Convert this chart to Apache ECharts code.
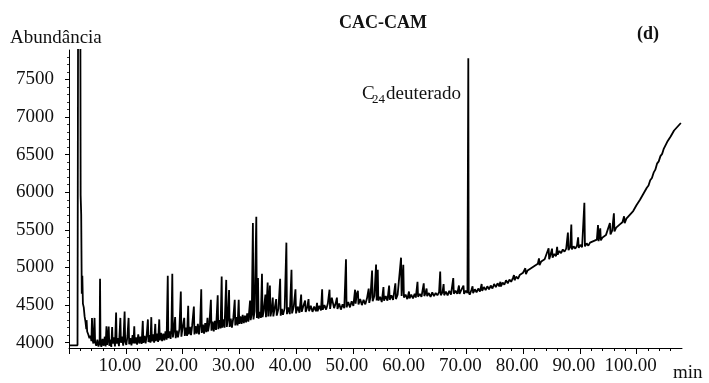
<!DOCTYPE html>
<html>
<head>
<meta charset="utf-8">
<title>CAC-CAM</title>
<style>
  html, body { margin: 0; padding: 0; background: #fff; }
  #chart { width: 709px; height: 383px; }
</style>
</head>
<body>
<div id="chart"></div>
<script src="https://cdn.jsdelivr.net/npm/echarts@6/dist/echarts.min.js"></script>
<script>
// tick values
var xMajor = [0, 10, 20, 30, 40, 50, 60, 70, 80, 90, 100];
var xLabels = [10, 20, 30, 40, 50, 60, 70, 80, 90, 100];
var xMinor = [2, 4, 6, 8, 12, 14, 16, 18, 22, 24, 26, 28, 32, 34, 36, 38, 42, 44, 46, 48,
  52, 54, 56, 58, 62, 64, 66, 68, 72, 74, 76, 78, 82, 84, 86, 88, 92, 94, 96, 98, 102, 104, 106];
var yMajor = [4000, 4500, 5000, 5500, 6000, 6500, 7000, 7500];
var yMinor = [4100, 4200, 4300, 4400, 4600, 4700, 4800, 4900, 5100, 5200, 5300, 5400,
  5600, 5700, 5800, 5900, 6100, 6200, 6300, 6400, 6600, 6700, 6800, 6900,
  7100, 7200, 7300, 7400, 7600, 7700, 7800];

// chromatogram [min, abundance]
var trace0 = [[0,3965],[1.5,3965],[1.6,8300],[2.0,8300],[2.05,5960],[2.15,5700],[2.25,4650],[2.35,4890],
  [2.45,4520],[2.6,4470],[2.75,4350],[2.9,4280],[3.05,4180],[3.1,4300],[3.2,4150],[3.4,4110],[3.6,4060],
  [3.8,4090],[3.95,4020],[4.05,4330],[4.15,4040],[4.3,3990],[4.5,4330],[4.6,4010],[4.8,3960],[5.0,4040]];

var trace5 = [[5.2,3950],[5.4,4020],[5.47,4850],[5.55,3990],[5.7,3945],[5.9,4050],[6.1,3960],[6.3,4080],
  [6.45,3950],[6.6,4220],[6.7,3970],[6.85,4060],[7.0,4215],[7.1,3960],[7.3,4040],[7.45,3945],[7.6,4210],
  [7.7,3990],[7.9,4070],[8.1,3950],[8.3,4400],[8.4,3990],[8.6,4060],[8.8,3955],[9.05,4330],[9.15,4000],
  [9.35,4080],[9.55,3960],[9.8,4415],[9.9,4010],[10.1,3970],[10.3,4090],[10.5,4330],[10.6,3980],[10.8,4060],
  [11.0,3965],[11.2,4100],[11.35,3990],[11.5,4220],[11.6,3990],[11.8,4070],[12.0,3975],[12.2,4110],
  [12.4,3990],[12.6,4080],[12.8,3985],[13.0,4290],[13.1,4000],[13.3,4090],[13.5,3990],[13.7,4110],
  [13.9,4310],[14.0,4010],[14.2,4100],[14.35,4000],[14.5,4340],[14.6,4020],[14.8,4110],[15.0,4000],
  [15.2,4250],[15.3,4020],[15.5,4120],[15.7,4010],[15.9,4310],[16.0,4030],[16.2,4130],[16.4,4020],
  [16.6,4120],[16.8,4030],[17.0,4150],[17.2,4040],[17.4,4890],[17.5,4060],[17.7,4150],[17.9,4050],
  [18.05,4200],[18.2,4915],[18.3,4070],[18.5,4170],[18.7,4340],[18.8,4060],[19.0,4160],[19.2,4070],
  [19.45,4180],[19.7,4680],[19.8,4080],[20.0,4190],[20.3,4330],[20.4,4090]];

var trace20 = [[20.6,4200],[20.8,4090],[21.0,4490],[21.1,4110],[21.3,4210],[21.5,4100],[21.7,4230],
  [22.0,4480],[22.1,4110],[22.3,4220],[22.5,4120],[22.7,4250],[22.9,4110],[23.1,4240],[23.3,4710],
  [23.4,4130],[23.6,4240],[23.8,4120],[24.0,4260],[24.2,4140],[24.4,4330],[24.5,4150],[24.75,4270],
  [25.0,4570],[25.1,4160],[25.3,4280],[25.5,4150],[25.7,4290],[25.9,4170],[26.2,4630],[26.3,4180],
  [26.5,4300],[26.7,4190],[26.9,4880],[27.0,4200],[27.2,4310],[27.4,4200],[27.7,4835],[27.8,4210],
  [28.0,4320],[28.2,4700],[28.3,4210],[28.5,4320],[28.7,4200],[28.95,4330],[29.2,4570],[29.3,4230],
  [29.5,4340],[29.7,4230],[29.9,4570],[30.0,4250],[30.2,4350],[30.4,4250],[30.6,4370],[30.8,4260],
  [31.0,4360],[31.2,4270],[31.4,4390],[31.6,4280],[31.9,4560],[32.0,4300],[32.2,4380],[32.4,5590],
  [32.5,4310],[32.7,4420],[33.0,5675],[33.1,4330],[33.3,4860],[33.4,4320],[33.6,4410],[33.8,4330],
  [34.0,4915],[34.1,4340],[34.3,4420],[34.6,4640],[34.7,4340],[35.0,4800],[35.1,4350],[35.4,4760],
  [35.5,4350],[35.7,4430],[35.9,4600],[36.0,4350],[36.2,4440],[36.5,4580],[36.6,4360],[36.9,4450],
  [37.2,4850],[37.3,4360],[37.5,4450],[37.7,4370],[38.0,4460],[38.3,5330],[38.4,4380],[38.6,4470],
  [38.9,4380],[39.2,4970],[39.3,4390],[39.6,4480],[39.9,4710],[40.0,4390],[40.3,4480],[40.6,4400],
  [40.9,4640],[41.0,4410],[41.3,4490],[41.6,4560],[41.7,4410]];

var trace42 = [[42.0,4480],[42.2,4580],[42.3,4420],[42.6,4490],[42.9,4410],[43.2,4480],[43.5,4420],
  [43.7,4530],[43.8,4420],[44.1,4490],[44.4,4430],[44.6,4710],[44.7,4440],[45.0,4500],[45.3,4440],
  [45.6,4520],[45.9,4705],[46.0,4450],[46.3,4600],[46.6,4620],[46.7,4460],[47.0,4530],[47.2,4600],
  [47.3,4450],[47.6,4520],[47.9,4440],[48.2,4510],[48.5,4460],[48.8,5110],[48.9,4470],[49.2,4540],
  [49.5,4470],[49.8,4550],[50.1,4490],[50.4,4705],[50.5,4520],[50.7,4650],[50.9,4690],[51.0,4510],
  [51.3,4580],[51.6,4500],[51.9,4570],[52.2,4510],[52.5,4590],[52.8,4720],[52.9,4530],[53.1,4600],
  [53.4,4960],[53.5,4550],[53.8,4620],[54.1,5040],[54.2,4560],[54.4,4970],[54.5,4560],[54.8,4610],
  [55.1,4540],[55.4,4740],[55.5,4560],[55.8,4620],[56.1,4560],[56.4,4760],[56.5,4570],[56.8,4630],
  [57.1,4570],[57.5,4790],[57.6,4580],[57.9,4640],[58.2,4660],[58.5,5130],[58.6,4620],[58.9,5035],
  [59.0,4600],[59.3,4640],[59.6,4580],[59.9,4680],[60.0,4590],[60.3,4640],[60.6,4590],[60.9,4650],
  [61.1,4600],[61.4,4810],[61.5,4610],[61.8,4650],[62.1,4610],[62.5,4790],[62.6,4620],[62.8,4660],
  [63.0,4720],[63.1,4620],[63.4,4660],[63.7,4610],[64.0,4670],[64.3,4620],[64.6,4660],[64.9,4630],
  [65.2,4670],[65.4,4945],[65.5,4630],[65.8,4670],[66.0,4780],[66.1,4630],[66.4,4680],[66.7,4630],
  [67.0,4690],[67.3,4640],[67.7,4860],[67.8,4650],[68.1,4690],[68.4,4650],[68.7,4760],[68.8,4650],
  [69.1,4700],[69.5,4760],[69.6,4650],[69.9,4690],[70.2,4660],[70.28,4680],[70.35,7780],[70.42,4670]];

var trace70 = [[70.6,4640],[70.9,4700],[71.1,4750],[71.2,4660],[71.5,4710],[71.8,4670],[72.1,4720],
  [72.4,4680],[72.7,4780],[72.8,4690],[73.1,4740],[73.4,4700],[73.7,4750],[74.0,4710],[74.3,4760],
  [74.6,4720],[74.9,4780],[75.2,4740],[75.5,4790],[75.8,4750],[76.0,4810],[76.1,4750],[76.4,4800],
  [76.7,4770],[77.0,4830],[77.3,4790],[77.6,4840],[77.9,4810],[78.2,4860],[78.4,4900],[78.5,4830],
  [78.8,4880],[79.1,4850],[79.4,4900],[79.7,4880],[80.0,4930],[80.4,4990],[80.5,4910],[80.8,4960],
  [81.1,4940],[81.4,4990],[81.7,4970],[82.0,5020],[82.3,5000],[82.6,5050],[82.8,5120],[82.9,5030],
  [83.2,5080],[83.5,5060],[83.8,5110],[84.1,5090],[84.5,5255],[84.6,5110],[84.8,5160],[85.1,5250],
  [85.2,5130],[85.5,5180],[85.8,5150],[86.0,5275],[86.1,5170],[86.4,5220],[86.7,5190],[87.0,5240],
  [87.3,5210],[87.6,5250],[87.9,5465],[88.0,5230],[88.3,5270],[88.5,5570],[88.6,5240],[88.9,5280],
  [89.2,5250],[89.5,5290],[89.7,5400],[89.8,5260],[90.1,5300],[90.4,5270],[90.8,5860],[90.9,5280],
  [91.2,5320],[91.5,5290],[91.8,5330],[92.1,5310],[92.4,5350],[92.7,5330],[93.0,5370],[93.2,5565],
  [93.3,5350],[93.6,5520],[93.7,5360],[94.0,5400],[94.3,5380],[94.6,5430],[94.9,5420],[95.3,5590],
  [95.4,5440],[95.7,5490],[96.0,5720],[96.1,5480],[96.4,5530],[96.7,5510],[97.0,5570],[97.3,5560],
  [97.5,5600],[97.8,5680],[97.9,5590],[98.2,5650],[98.5,5640],[98.8,5700],[99.1,5700],[99.4,5750],
  [99.7,5770],[100.0,5830],[100.3,5840],[100.6,5900],[100.9,5920],[101.2,5980],[101.5,6000],
  [101.8,6060],[102.1,6090],[102.4,6160],[102.7,6190],[103.0,6260],[103.3,6300],[103.6,6380],
  [103.9,6410],[104.2,6480],[104.5,6510],[104.8,6580],[105.1,6600],[105.4,6670],[105.7,6690],
  [106.0,6740],[106.3,6760],[106.6,6820],[106.9,6830],[107.2,6870],[107.5,6880],[107.8,6920]];

var trace = trace0.concat(trace5, trace20, trace42, trace70);

var serif = 'Liberation Serif';
var ink = '#111';

var chart = echarts.init(document.getElementById('chart'));
chart.setOption({
  animation: false,
  backgroundColor: '#fff',
  grid: { left: 69, right: 27, top: 50, bottom: 35 },
  xAxis: [{
    type: 'value', min: 0, max: 108,
    axisLine: { show: true, lineStyle: { color: '#000', width: 1 } },
    axisTick: { show: true, length: 6, customValues: xMajor, lineStyle: { color: '#000' } },
    axisLabel: {
      customValues: xLabels, margin: 9, color: ink, fontFamily: serif, fontSize: 19,
      padding: [0, 12, 0, 0],
      formatter: function (v) { return v.toFixed(2); }
    },
    splitLine: { show: false }
  }, {
    type: 'value', min: 0, max: 108, position: 'bottom',
    axisLine: { show: false },
    axisTick: { show: true, length: 3, customValues: xMinor, lineStyle: { color: '#000' } },
    axisLabel: { show: false },
    splitLine: { show: false }
  }],
  yAxis: [{
    type: 'value', min: 3930, max: 7890,
    axisLine: { show: true, lineStyle: { color: '#000', width: 1 } },
    axisTick: { show: true, length: 4, customValues: yMajor, lineStyle: { color: '#000' } },
    axisLabel: {
      customValues: yMajor, margin: 15, color: ink, fontFamily: serif, fontSize: 19,
      formatter: function (v) { return String(v); }
    },
    splitLine: { show: false }
  }, {
    type: 'value', min: 3930, max: 7890, position: 'left',
    axisLine: { show: false },
    axisTick: { show: true, length: 2, customValues: yMinor, lineStyle: { color: '#333' } },
    axisLabel: { show: false },
    splitLine: { show: false }
  }],
  graphic: [
    { type: 'text', left: 10, top: 29, style: { text: 'Abundância', font: '19px "Liberation Serif"', fill: ink } },
    { type: 'text', left: 339, top: 14, style: { text: 'CAC-CAM', font: 'bold 18px "Liberation Serif"', fill: ink } },
    { type: 'text', left: 637, top: 25, style: { text: '(d)', font: 'bold 18px "Liberation Serif"', fill: ink } },
    { type: 'text', left: 362, top: 85, style: { text: 'C', font: '19px "Liberation Serif"', fill: ink } },
    { type: 'text', left: 372, top: 93, style: { text: '24', font: '13px "Liberation Serif"', fill: ink } },
    { type: 'text', left: 386, top: 85, style: { text: 'deuterado', font: '19px "Liberation Serif"', fill: ink } },
    { type: 'text', left: 673, top: 364, style: { text: 'min', font: '19px "Liberation Serif"', fill: ink } }
  ],
  series: [{
    type: 'line',
    data: trace,
    showSymbol: false,
    sampling: 'none',
    clip: true,
    lineStyle: { color: '#000', width: 1.8 }
  }]
});
</script>
</body>
</html>
